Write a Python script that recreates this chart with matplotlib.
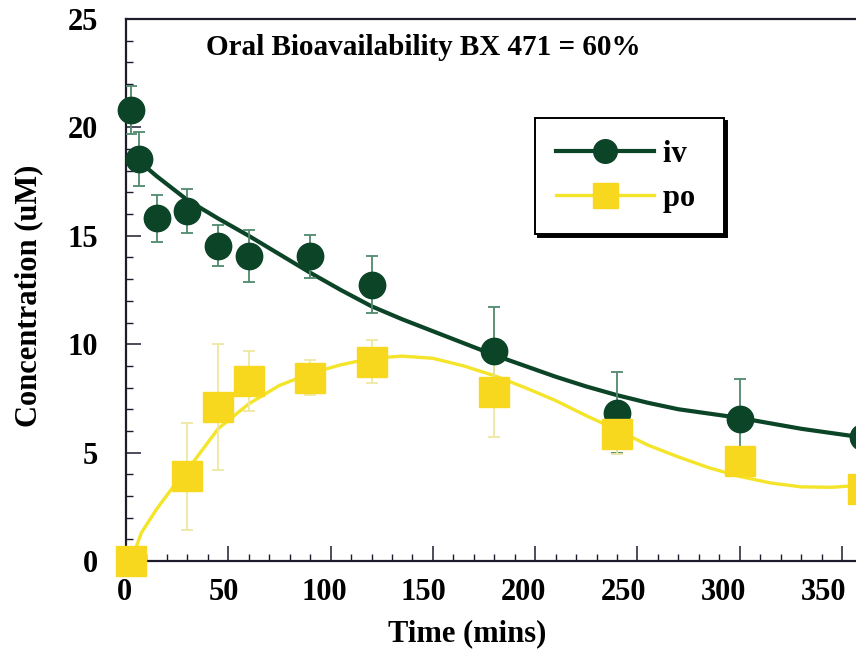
import matplotlib.pyplot as plt
from matplotlib.lines import Line2D
from matplotlib.ticker import MultipleLocator
from matplotlib.transforms import ScaledTranslation

# iv dosing, mean +/- error (uM)
t_iv = [2.5, 6.5, 15, 30, 45, 60, 90, 120, 180, 240, 300, 360]
c_iv = [20.8, 18.55, 15.8, 16.15, 14.55, 14.05, 14.05, 12.75, 9.7, 6.85, 6.55, 5.7]
e_iv = [1.1, 1.25, 1.1, 1.0, 0.95, 1.2, 1.0, 1.3, 2.0, 1.85, 1.85, 1.5]

# po dosing
t_po = [2.5, 30, 45, 60, 90, 120, 180, 240, 300, 360]
c_po = [0.0, 3.9, 7.1, 8.3, 8.45, 9.2, 7.8, 5.85, 4.6, 3.3]
e_po = [0.0, 2.45, 2.9, 1.4, 0.8, 1.0, 2.1, 0.9, 0.6, 0.5]

# fitted curves
t_fit = [2.5, 7.5, 15, 22.5, 30, 45, 60, 75, 90, 105, 120, 135, 150, 165,
         180, 195, 210, 225, 240, 255, 270, 285, 300, 315, 330, 345, 360]
fit_iv = [18.75, 18.35, 17.75, 17.2, 16.65, 15.8, 15.0, 14.15, 13.3, 12.5,
          11.75, 11.15, 10.6, 10.05, 9.5, 9.0, 8.5, 8.05, 7.65, 7.3, 7.0,
          6.8, 6.6, 6.35, 6.1, 5.9, 5.7]
fit_po = [0.0, 1.3, 2.4, 3.35, 4.2, 6.1, 7.25, 8.1, 8.65, 9.05, 9.35, 9.45,
          9.35, 9.0, 8.55, 8.0, 7.4, 6.7, 6.05, 5.35, 4.8, 4.3, 3.9, 3.6,
          3.42, 3.4, 3.5]

verde = '#0c4427'
verde_err = '#4f8a6e'
amarillo = '#f7d81e'
amarillo_lin = '#f4e42a'
amarillo_err = '#eee8a2'

plt.rcParams['font.family'] = ['Liberation Serif', 'DejaVu Serif']
plt.rcParams['font.weight'] = 'bold'

fig = plt.figure(figsize=(8.56, 6.56), dpi=100)
ax = fig.add_axes([0.1472, 0.1448, 0.8528, 0.8262])

# curvas ajustadas
ax.plot(t_fit, fit_iv, color=verde, lw=3.0, zorder=2)
ax.plot(t_fit, fit_po, color=amarillo_lin, lw=2.4, zorder=2)

# barras de error
ax.errorbar(t_iv, c_iv, yerr=e_iv, fmt='none', ecolor=verde_err,
            elinewidth=1.3, capsize=4.5, capthick=1.3, zorder=3)
ax.errorbar(t_po, c_po, yerr=e_po, fmt='none', ecolor=amarillo_err,
            elinewidth=1.3, capsize=4.5, capthick=1.3, zorder=3)

# puntos
ax.plot(t_iv, c_iv, 'o', color=verde, ms=19, mec=verde, zorder=4, clip_on=False)
ax.plot(t_po, c_po, 's', color=amarillo, ms=21, mec=amarillo, zorder=5, clip_on=False)

ax.set_xlim(0, 356.8)
ax.set_ylim(0, 25)
ax.xaxis.set_major_locator(MultipleLocator(50))
ax.xaxis.set_minor_locator(MultipleLocator(10))
ax.yaxis.set_major_locator(MultipleLocator(5))
ax.yaxis.set_minor_locator(MultipleLocator(1))
ax.tick_params(which='both', direction='in', top=False, right=False,
               color='#1c1c2c', labelsize=22)
ax.tick_params(which='major', length=11, width=1.1)
ax.tick_params(which='minor', length=5, width=1.0)
ax.tick_params(axis='x', pad=12)
ax.tick_params(axis='y', pad=20)

# las etiquetas del eje x van algo corridas a la izquierda en el original
fig.canvas.draw()
for lab in ax.get_xticklabels():
    v = lab.get_position()[0]
    dx = -2 - 16.5 * v / 350
    lab.set_transform(lab.get_transform() +
                      ScaledTranslation(dx / 100, 0, fig.dpi_scale_trans))

for lado in ['left', 'bottom', 'top']:
    ax.spines[lado].set_linewidth(1.6)
    ax.spines[lado].set_color('#1c1c2c')
ax.spines['right'].set_visible(False)

ax.set_xlabel('Time (mins)', fontsize=22, fontweight='bold')
ax.xaxis.set_label_coords(0.467, -0.108)
ax.set_ylabel('Concentration (uM)', fontsize=22, fontweight='bold')
ax.yaxis.set_label_coords(-0.113, 0.49)

ax.text((423 - 126) / 730, (561 - 47) / 542, 'Oral Bioavailability BX 471 = 60%',
        transform=ax.transAxes, ha='center', va='center', fontsize=21,
        fontweight='bold')

handles = [
    Line2D([], [], color=verde, lw=3.0, marker='o', ms=17, mec=verde),
    Line2D([], [], color=amarillo_lin, lw=2.4, marker='s', mfc=amarillo,
           mec=amarillo, ms=18),
]
leg = ax.legend(handles, ['iv ', 'po '], loc='upper left',
                bbox_to_anchor=(0.56, 0.817), borderaxespad=0,
                fontsize=22, handlelength=3.2, handletextpad=0.3,
                labelspacing=0.5, borderpad=0.7, fancybox=False,
                framealpha=1, edgecolor='black',
                shadow={'color': 'black', 'alpha': 1})
leg.get_frame().set_linewidth(1.4)

fig.savefig('out.png', dpi=100)
